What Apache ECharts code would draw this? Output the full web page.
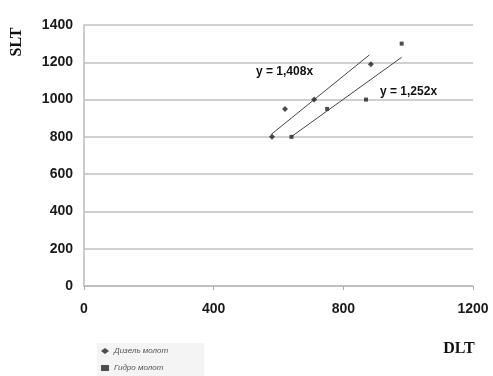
<!DOCTYPE html>
<html><head><meta charset="utf-8">
<script src="https://cdn.jsdelivr.net/npm/echarts@6/dist/echarts.min.js"></script>
<style>html,body{margin:0;padding:0;background:#fff}#c{width:493px;height:376px}</style>
</head><body><div id="c"></div>
<script>
const xTicks = [0, 400, 800, 1200];
const yTicks = [0, 200, 400, 600, 800, 1000, 1200, 1400];
const seriesNames = ['Дизель молот', 'Гидро молот'];
const dieselPoints = [[580, 800], [620, 950], [710, 1000], [885, 1190]];
const hydroPoints = [[640, 800], [750, 950], [870, 1000], [980, 1300]];
const slopes = [1.408, 1.252];
const trendRanges = [[578, 880], [640, 980]];
const trendLabels = ['y = 1,408x', 'y = 1,252x'];
const axisNames = ['DLT', 'SLT'];

const trendLine = (k, r) => r.map(x => [x, k * x]);

const chart = echarts.init(document.getElementById('c'));
chart.setOption({
  animation: false,
  grid: { left: 84, top: 25, right: 20, bottom: 90 },
  xAxis: {
    type: 'value', min: 0, max: 1200, interval: 400,
    axisLine: { lineStyle: { color: '#bbb', width: 1.5 } },
    axisTick: { show: true, length: 4, lineStyle: { color: '#aaa' } },
    axisLabel: { color: '#1a1a1a', fontFamily: 'Liberation Sans', fontWeight: 'bold', fontSize: 14, margin: 16,
      formatter: v => xTicks.includes(v) ? String(v) : '' },
    splitLine: { show: false }
  },
  yAxis: {
    type: 'value', min: 0, max: 1400, interval: 200,
    axisLine: { show: true, lineStyle: { color: '#bbb', width: 1.5 } },
    axisTick: { show: false },
    axisLabel: { color: '#1a1a1a', fontFamily: 'Liberation Sans', fontWeight: 'bold', fontSize: 14, margin: 11,
      formatter: v => yTicks.includes(v) ? String(v) : '' },
    splitLine: { lineStyle: { color: '#d0d0d0', width: 2 } }
  },
  legend: {
    orient: 'vertical', left: 97, top: 343, itemGap: 9, itemWidth: 8, itemHeight: 6,
    backgroundColor: '#f4f4f4', padding: [4, 36, 4, 4],
    textStyle: { fontSize: 8, fontStyle: 'italic', color: '#555', fontFamily: 'Liberation Sans' },
    data: [
      { name: seriesNames[0], icon: 'diamond' },
      { name: seriesNames[1], icon: 'rect' }
    ]
  },
  series: [
    { name: seriesNames[0], type: 'scatter', data: dieselPoints, symbol: 'diamond', symbolSize: 6,
      itemStyle: { color: '#222' }, z: 5 },
    { name: seriesNames[1], type: 'scatter', data: hydroPoints, symbol: 'rect', symbolSize: 4,
      itemStyle: { color: '#222' }, z: 5 },
    { type: 'line', data: trendLine(slopes[0], trendRanges[0]), symbol: 'none',
      lineStyle: { color: '#444', width: 1 }, silent: true },
    { type: 'line', data: trendLine(slopes[1], trendRanges[1]), symbol: 'none',
      lineStyle: { color: '#444', width: 1 }, silent: true }
  ],
  graphic: [
    { type: 'text', left: 256, top: 66, style: { text: trendLabels[0], font: 'bold 12px "Liberation Sans"', fill: '#111' } },
    { type: 'text', left: 380, top: 86, style: { text: trendLabels[1], font: 'bold 12px "Liberation Sans"', fill: '#111' } },
    { type: 'text', x: 459, y: 349, style: { text: axisNames[0], font: 'bold 16px "Liberation Serif"', fill: '#111', align: 'center', verticalAlign: 'middle' } },
    { type: 'text', x: 17, y: 42, rotation: Math.PI / 2, style: { text: axisNames[1], font: 'bold 16px "Liberation Serif"', fill: '#111', align: 'center', verticalAlign: 'middle' } }
  ]
});
</script></body></html>
